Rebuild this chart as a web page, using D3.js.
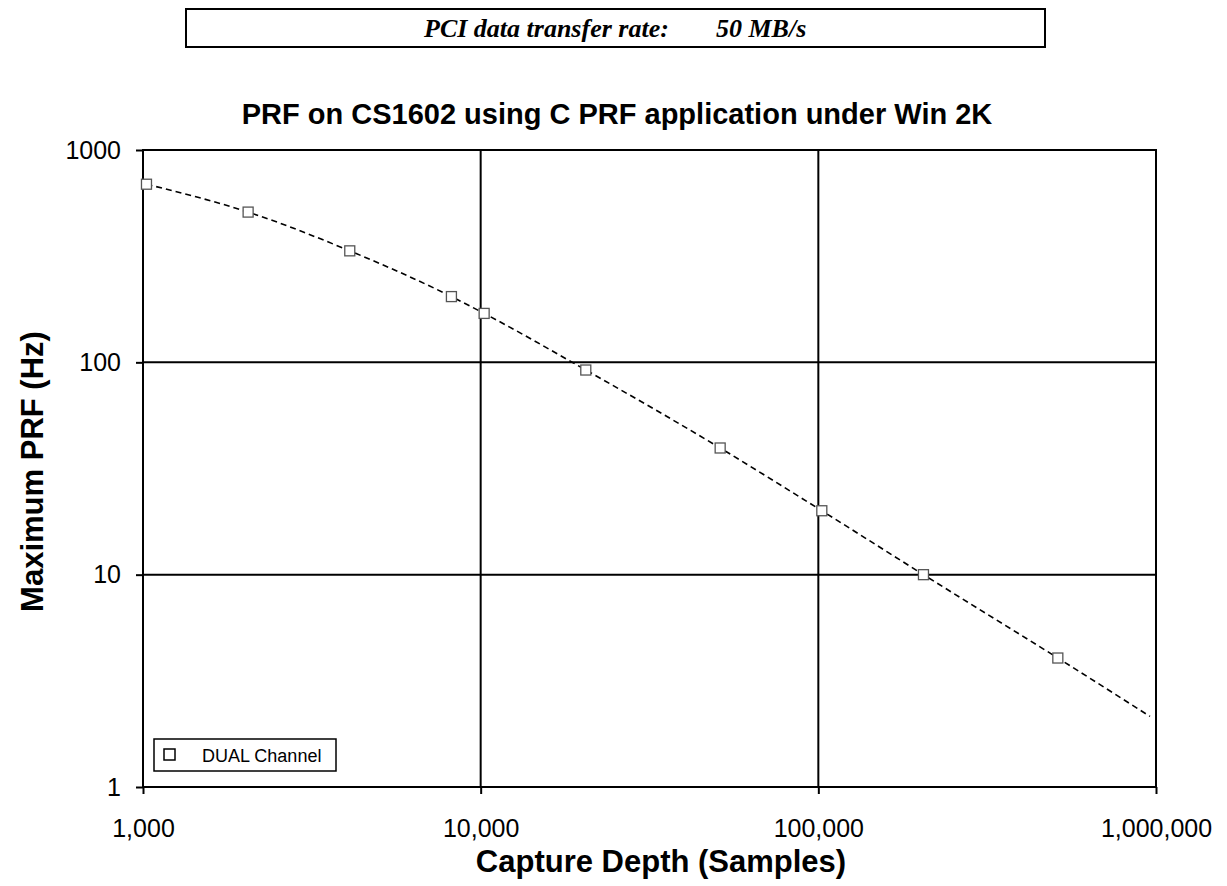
<!DOCTYPE html>
<html lang="en">
<head>
<meta charset="utf-8">
<script src="https://d3js.org/d3.v7.min.js"></script>
<style>
  body { margin: 0; background: #fff; }
  text { fill: #000; }
</style>
</head>
<body>
<div id="chart"></div>
<script>
// capture depth (samples) and measured max PRF (Hz), dual channel
const depths = [1024, 2048, 4096, 8192, 10240, 20480, 51200, 102400, 204800, 512000];
const prf = [690, 510, 335, 204, 170, 92, 39.5, 20, 10, 4.05];
// where the dashed trend line runs out past the last point
const trendEnd = [960000, 2.15];

const xTicks = [1000, 10000, 100000, 1000000];
const yTicks = [1, 10, 100, 1000];

const W = 1227, H = 886;
const plotL = 143, plotR = 1156, plotT = 150, plotB = 787;
const sans = "'Liberation Sans', Arial, sans-serif";

const svg = d3.select("#chart").append("svg")
  .attr("width", W).attr("height", H)
  .style("font-family", sans);

svg.append("rect").attr("width", W).attr("height", H).attr("fill", "#fff");

// header box
svg.append("rect")
  .attr("x", 186).attr("y", 9).attr("width", 859).attr("height", 38)
  .attr("fill", "none").attr("stroke", "#000").attr("stroke-width", 2);
const hdr = svg.append("g")
  .style("font-family", "'Liberation Serif', 'Times New Roman', serif")
  .style("font-weight", "bold").style("font-style", "italic")
  .style("font-size", "26px");
hdr.append("text").attr("x", 424).attr("y", 37).text("PCI data transfer rate:");
hdr.append("text").attr("x", 716).attr("y", 37).text("50 MB/s");

const x = d3.scaleLog().domain([1000, 1000000]).range([plotL, plotR]);
const y = d3.scaleLog().domain([1, 1000]).range([plotB, plotT]);

// grid
svg.append("g").selectAll("line").data(xTicks.slice(1, -1)).join("line")
  .attr("x1", d => x(d)).attr("x2", d => x(d))
  .attr("y1", plotT).attr("y2", plotB)
  .attr("stroke", "#000").attr("stroke-width", 2);
svg.append("g").selectAll("line").data(yTicks.slice(1, -1)).join("line")
  .attr("x1", plotL).attr("x2", plotR)
  .attr("y1", d => y(d)).attr("y2", d => y(d))
  .attr("stroke", "#000").attr("stroke-width", 2);

// plot frame
svg.append("rect")
  .attr("x", plotL).attr("y", plotT)
  .attr("width", plotR - plotL).attr("height", plotB - plotT)
  .attr("fill", "none").attr("stroke", "#000").attr("stroke-width", 2);

// axes
const yAxis = svg.append("g")
  .attr("transform", `translate(${plotL},0)`)
  .call(d3.axisLeft(y).tickValues(yTicks).tickFormat(d3.format("d"))
    .tickSize(7).tickPadding(15));
const xAxis = svg.append("g")
  .attr("transform", `translate(0,${plotB})`)
  .call(d3.axisBottom(x).tickValues(xTicks).tickFormat(d3.format(","))
    .tickSize(7).tickPadding(25));
[xAxis, yAxis].forEach(a => {
  a.select(".domain").remove();
  a.selectAll(".tick line").attr("stroke", "#000").attr("stroke-width", 2);
  a.selectAll(".tick text")
    .style("font-family", sans)
    .style("font-size", "25px").attr("fill", "#000");
});

// dashed curve
const pts = depths.map((d, i) => [d, prf[i]]).concat([trendEnd]);
const line = d3.line()
  .x(d => x(d[0])).y(d => y(d[1]))
  .curve(d3.curveMonotoneX);
svg.append("path")
  .attr("d", line(pts))
  .attr("fill", "none").attr("stroke", "#000")
  .attr("stroke-width", 1.6).attr("stroke-dasharray", "6,4");

// markers
svg.append("g").selectAll("rect").data(depths).join("rect")
  .attr("x", (d) => x(d) - 5)
  .attr("y", (d, i) => y(prf[i]) - 5)
  .attr("width", 10).attr("height", 10)
  .attr("fill", "#fff").attr("stroke", "#555").attr("stroke-width", 1.3);

// titles
svg.append("text")
  .attr("x", 617).attr("y", 124).attr("text-anchor", "middle")
  .style("font-size", "29px").style("font-weight", "bold")
  .text("PRF on CS1602 using C PRF application under Win 2K");
svg.append("text")
  .attr("x", 661).attr("y", 872).attr("text-anchor", "middle")
  .style("font-size", "31px").style("font-weight", "bold")
  .text("Capture Depth (Samples)");
svg.append("text")
  .attr("transform", `translate(43,${(plotT + plotB) / 2 + 3}) rotate(-90)`)
  .attr("text-anchor", "middle")
  .style("font-size", "31px").style("font-weight", "bold")
  .text("Maximum PRF (Hz)");

// legend
const lg = svg.append("g");
lg.append("rect")
  .attr("x", 154).attr("y", 739).attr("width", 182).attr("height", 32)
  .attr("fill", "#fff").attr("stroke", "#000").attr("stroke-width", 1.5);
lg.append("rect")
  .attr("x", 164).attr("y", 749).attr("width", 11).attr("height", 11)
  .attr("fill", "#fff").attr("stroke", "#000").attr("stroke-width", 1.5);
lg.append("text")
  .attr("x", 202).attr("y", 762)
  .style("font-size", "18px")
  .text("DUAL Channel");
</script>
</body>
</html>
